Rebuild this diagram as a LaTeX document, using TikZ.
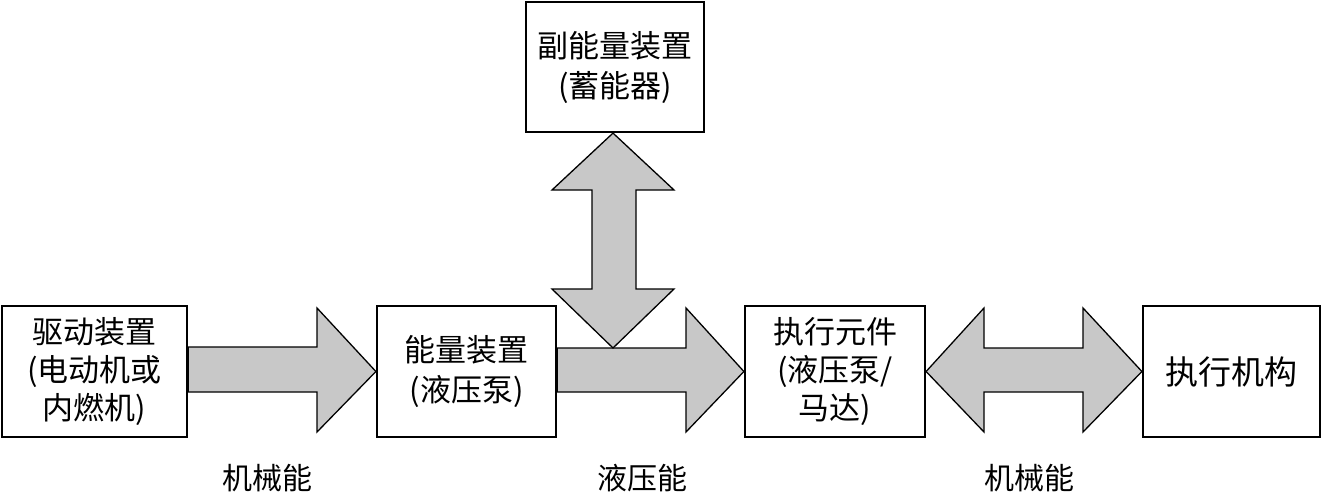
\documentclass[tikz,border=0pt]{standalone}
\usepackage{fontspec}
\newfontfamily\cjk{Noto Sans CJK SC}
\usetikzlibrary{calc}
\definecolor{arrowgray}{HTML}{C8C8C8}
\newcommand{\boxfont}{\cjk\fontsize{31}{38}\selectfont}
\newcommand{\bigboxfont}{\cjk\fontsize{33}{38}\selectfont}
\newcommand{\labfont}{\cjk\fontsize{30}{34}\selectfont}
\tikzset{
  box/.style={draw=black, line width=2.2pt, fill=white, align=center, inner sep=2pt,
    font=\boxfont},
  blockarrow/.style={draw=black, fill=arrowgray, line width=1.3pt, line join=miter},
  energy/.style={inner sep=0pt, font=\labfont}
}
\begin{document}
\begin{tikzpicture}[x=1pt,y=-1pt]
\useasboundingbox (0,0) rectangle (1322,492);
% boxes
\node[box, minimum width=185pt, minimum height=131pt] (drive) at (94.5,371.5) {驱动装置\\(电动机或\\内燃机)};
\node[box, minimum width=179pt, minimum height=131pt] (pump) at (466.5,371.5) {能量装置\\[2pt](液压泵)};
\node[box, minimum width=178pt, minimum height=130pt] (acc) at (615,67) {副能量装置\\[2pt](蓄能器)};
\node[box, minimum width=180pt, minimum height=131pt] (act) at (835,371.5) {执行元件\\(液压泵/\\马达)};
\node[box, minimum width=177pt, minimum height=131pt, font=\bigboxfont] (mech) at (1231.5,371.5) {执行机构};
% arrow 1: drive -> pump
\draw[blockarrow] (drive.east |- 0,347) -- (317,347) -- (317,308) -- (pump.west) -- (317,432) -- (317,392) -- (drive.east |- 0,392) -- cycle;
% arrow 2: pump -> act
\draw[blockarrow] (pump.east |- 0,348) -- (686,348) -- (686,308) -- (act.west) -- (686,432) -- (686,392) -- (pump.east |- 0,392) -- cycle;
% vertical double arrow: acc <-> hydraulic line
\coordinate (junc) at (613,348);
\draw[blockarrow] (acc.south -| 613,0) -- (674,190) -- (636,190) -- (636,289) -- (674,289) -- (junc) -- (552,289) -- (592,289) -- (592,190) -- (552,190) -- cycle;
% horizontal double arrow: act <-> mech
\draw[blockarrow] (act.east) -- (984,308) -- (984,348) -- (1083,348) -- (1083,308) -- (mech.west) -- (1083,432) -- (1083,392) -- (984,392) -- (984,432) -- cycle;
% labels
\node[energy] (e1) at (267,478) {\labfont 机械能};
\node[energy] (e2) at (642,478) {\labfont 液压能};
\node[energy] (e3) at (1029,478) {\labfont 机械能};
\end{tikzpicture}
\end{document}
